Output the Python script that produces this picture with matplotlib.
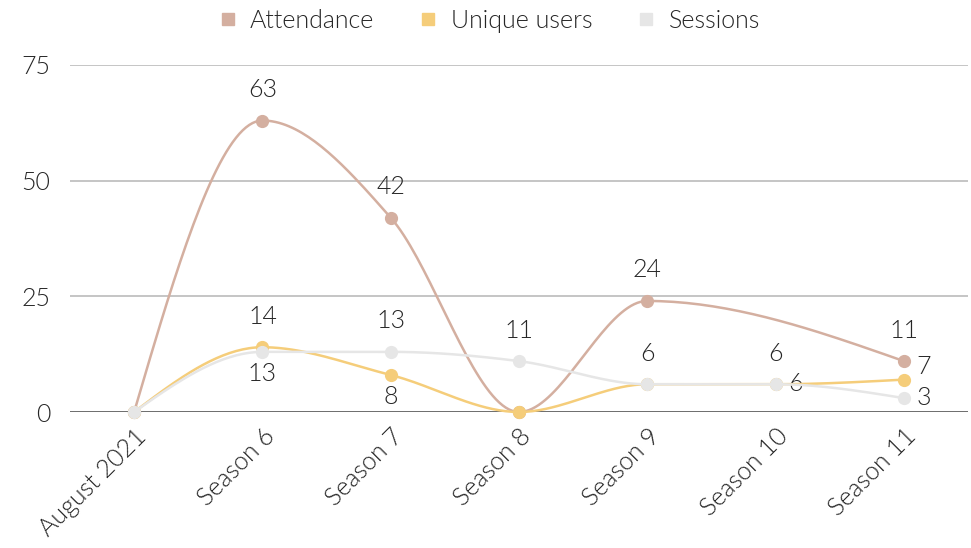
import matplotlib.pyplot as plt
from matplotlib.lines import Line2D
import numpy as np

categories = ["August 2021", "Season 6", "Season 7", "Season 8", "Season 9", "Season 10", "Season 11"]
attendance = [0, 63, 42, 0, 24, None, 11]
unique_users = [0, 14, 8, 0, 6, 6, 7]
sessions = [0, 13, 13, 11, 6, 6, 3]

# label placement per point: 'a' above, 'b' below, 'r' right, 'ru' right+up, None hidden
att_pos = [None, 'a', 'a', None, 'a', None, 'a']
uni_pos = [None, 'a', 'b', None, 'a', 'a', 'ru']
ses_pos = [None, 'b', 'a', 'a', None, 'r', 'r']

plt.rcParams['font.family'] = ['Lato', 'DejaVu Sans']
plt.rcParams['font.weight'] = 300
TXT = '#262626'


def monotone(xs, ys, n=40):
    # monotone cubic curve through the points (like d3 curveMonotoneX)
    xs = np.asarray(xs, float)
    ys = np.asarray(ys, float)
    h = np.diff(xs)
    s = np.diff(ys) / h
    m = np.zeros(len(xs))
    for i in range(1, len(xs) - 1):
        p = (s[i - 1] * h[i] + s[i] * h[i - 1]) / (h[i - 1] + h[i])
        m[i] = (np.sign(s[i - 1]) + np.sign(s[i])) * min(abs(s[i - 1]), abs(s[i]), 0.5 * abs(p))
    m[0] = (3 * s[0] - m[1]) / 2
    m[-1] = (3 * s[-1] - m[-2]) / 2
    out_x, out_y = [], []
    for i in range(len(xs) - 1):
        t = np.linspace(0, 1, n)
        h00 = 2 * t ** 3 - 3 * t ** 2 + 1
        h10 = t ** 3 - 2 * t ** 2 + t
        h01 = -2 * t ** 3 + 3 * t ** 2
        h11 = t ** 3 - t ** 2
        out_x.extend(xs[i] + t * h[i])
        out_y.extend(h00 * ys[i] + h10 * h[i] * m[i] + h01 * ys[i + 1] + h11 * h[i] * m[i + 1])
    return out_x, out_y


fig = plt.figure(figsize=(9.71, 5.48), dpi=100)
ax = fig.add_axes([70 / 971, 1 - 412 / 548, 898 / 971, 347 / 548])

series = [("Attendance", attendance, att_pos, '#d4afa0'),
          ("Unique users", unique_users, uni_pos, '#f5cd7a'),
          ("Sessions", sessions, ses_pos, '#e6e6e6')]

offsets = {'a': (0, 22, 'center'), 'b': (0, -16, 'center'), 'r': (9, 0, 'left'), 'ru': (9, 9, 'left')}

for z, (name, vals, pos, col) in enumerate(series):
    xs = [i for i, v in enumerate(vals) if v is not None]
    ys = [v for v in vals if v is not None]
    cx, cy = monotone(xs, ys)
    ax.plot(cx, cy, color=col, lw=1.8, zorder=3 + z, clip_on=False, solid_capstyle='round')
    ax.plot(xs, ys, 'o', color=col, ms=8.5, zorder=3 + z, clip_on=False, label=name)
    for x, y in zip(xs, ys):
        p = pos[x]
        if p is None:
            continue
        dx, dy, ha = offsets[p]
        ax.annotate(str(y), (x, y), xytext=(dx, dy), textcoords='offset points',
                    ha=ha, va='center', fontsize=18, color=TXT)

ax.set_xlim(-0.5, 6.5)
ax.set_ylim(0, 75)
ax.set_yticks([0, 25, 50, 75])
ax.set_xticks(range(len(categories)))
ax.set_xticklabels(categories, rotation=45, ha='right', rotation_mode='anchor', fontsize=18, color=TXT)
ax.tick_params(axis='y', length=0, labelsize=18, labelcolor=TXT, pad=14)
ax.tick_params(axis='x', length=0, pad=9)
ax.grid(axis='y', color='#bbbbbb', lw=1.2)
ax.axhline(0, color='#666666', lw=2, zorder=2)
for s in ax.spines.values():
    s.set_visible(False)

handles = [Line2D([], [], marker='s', ls='', color=c, ms=9) for _, _, _, c in series]
fig.legend(handles, [s[0] for s in series], loc='upper center', bbox_to_anchor=(0.502, 1.025), ncol=3,
           frameon=False, fontsize=18, handlelength=1.0, handletextpad=0.4, columnspacing=1.65,
           labelcolor=TXT)

fig.savefig('out.png', dpi=100)
